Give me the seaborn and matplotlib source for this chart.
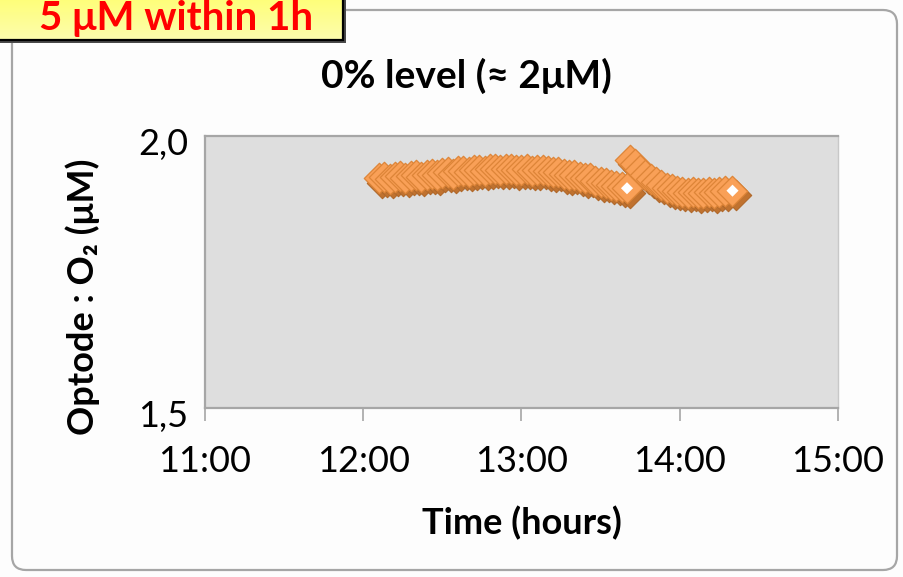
import numpy as np
import pandas as pd
import matplotlib
matplotlib.use("Agg")
import matplotlib.pyplot as plt
import matplotlib.transforms as mtrans
from matplotlib.patches import FancyBboxPatch, Rectangle
import seaborn as sns

# ---------------- data ----------------
seg1_times = ["12:06", "12:08", "12:10", "12:12", "12:14", "12:16", "12:18", "12:20",
              "12:22", "12:24", "12:26", "12:28", "12:30", "12:32", "12:34", "12:36",
              "12:38", "12:40", "12:42", "12:44", "12:46", "12:48", "12:50", "12:52",
              "12:54", "12:56", "12:58", "13:00", "13:02", "13:04", "13:06", "13:08",
              "13:10", "13:12", "13:14", "13:16", "13:18", "13:20", "13:22", "13:24",
              "13:26", "13:28", "13:30", "13:32", "13:34", "13:36", "13:38", "13:40"]
seg1_o2 = [1.922, 1.924, 1.921, 1.925, 1.926, 1.923, 1.927, 1.928,
           1.925, 1.929, 1.930, 1.928, 1.932, 1.933, 1.931, 1.935,
           1.936, 1.934, 1.937, 1.938, 1.936, 1.939, 1.940, 1.938,
           1.939, 1.940, 1.937, 1.938, 1.939, 1.936, 1.937, 1.938,
           1.935, 1.933, 1.934, 1.930, 1.928, 1.929, 1.925, 1.922,
           1.923, 1.918, 1.915, 1.914, 1.910, 1.908, 1.906, 1.904]
seg2_times = ["13:41", "13:43", "13:45", "13:47", "13:49", "13:51", "13:53", "13:55",
              "13:57", "13:59", "14:01", "14:03", "14:05", "14:07", "14:09", "14:11",
              "14:13", "14:15", "14:17", "14:20"]
seg2_o2 = [1.956, 1.948, 1.938, 1.929, 1.921, 1.915, 1.910, 1.905,
           1.902, 1.899, 1.897, 1.896, 1.897, 1.895, 1.896, 1.897,
           1.895, 1.897, 1.898, 1.8995]

x_ticks_labels = ["11:00", "12:00", "13:00", "14:00", "15:00"]
y_ticks = [1.5, 2.0]
y_ticks_labels = ["1,5", "2,0"]

title = "0% level (≈ 2μM)"
xlabel = "Time (hours)"
ylabel = "Optode : O₂ (μM)"
callout = "5 μM within 1h"


def to_hours(s):
    h, m = s.split(":")
    return int(h) + int(m) / 60.0


df = pd.DataFrame({
    "time": [to_hours(t) for t in seg1_times + seg2_times],
    "o2": seg1_o2 + seg2_o2,
    "seg": ["a"] * len(seg1_times) + ["b"] * len(seg2_times),
})
ends = pd.DataFrame({"time": [to_hours(seg1_times[-1]), to_hours(seg2_times[-1])],
                     "o2": [seg1_o2[-1], seg2_o2[-1]]})
tick_pos = [to_hours(t) for t in x_ticks_labels]

# ---------------- style ----------------
sns.set_theme(style="white")
plt.rcParams["font.family"] = ["Lato", "DejaVu Sans"]
plt.rcParams["text.color"] = "black"
plt.rcParams["axes.labelcolor"] = "black"

W, H = 904, 577
fig = plt.figure(figsize=(W / 100, H / 100), dpi=100)
fig.patch.set_facecolor("#FDFDFD")

# background (pixel coordinates) axes
bg = fig.add_axes([0, 0, 1, 1], zorder=0)
bg.set_xlim(0, W)
bg.set_ylim(H, 0)
bg.axis("off")

# rounded chart border
bg.add_patch(FancyBboxPatch((12, 10), 885, 560,
                            boxstyle="round,pad=0,rounding_size=14",
                            fc="#FDFDFD", ec="#A6A6A6", lw=1.6, zorder=1))

# callout box (top-left, clipped by figure edge)
bg.add_patch(Rectangle((-2, -2), 348, 45, fc="#4A4A4A", ec="none", zorder=2))
grad = np.linspace(0, 1, 64)[:, None, None]
top_c = np.array([1.0, 1.0, 0.45])
bot_c = np.array([0.99, 0.99, 0.68])
img = top_c * (1 - grad) + bot_c * grad
bg.imshow(img, extent=[-6, 343, 40, -6], aspect="auto", zorder=3,
          interpolation="bilinear")
bg.add_patch(Rectangle((-6, -6), 349, 46, fc="none", ec="black", lw=1.6, zorder=4))
bg.text(313, 30, callout, ha="right", va="baseline", color="#FF0000",
        fontsize=29, fontweight="bold", zorder=5)
bg.set_xlim(0, W)
bg.set_ylim(H, 0)

# title
bg.text(466, 76, title, ha="center", va="center", fontsize=28,
        fontweight="bold", color="black", zorder=5)

# ---------------- main axes ----------------
L, R, T, B = 205, 838, 136, 408
ax = fig.add_axes([L / W, (H - B) / H, (R - L) / W, (B - T) / H], zorder=2)
ax.set_facecolor("#DEDEDE")

shadow = ax.transData + mtrans.ScaledTranslation(2.2 / 72, -3.2 / 72, fig.dpi_scale_trans)
sns.scatterplot(data=df, x="time", y="o2", marker="D", s=240, color="#C0722F",
                edgecolor="#B0682A", linewidth=0.8, legend=False, ax=ax,
                transform=shadow, zorder=3)
sns.scatterplot(data=df, x="time", y="o2", marker="D", s=240, color="#F9A057",
                edgecolor="#DD8538", linewidth=0.9, legend=False, ax=ax, zorder=4)
sns.scatterplot(data=ends, x="time", y="o2", marker="D", s=38, color="white",
                edgecolor="none", linewidth=0, legend=False, ax=ax, zorder=5)

ax.set_xlim(11, 15)
ax.set_ylim(1.5, 2.0)
ax.set_xticks(tick_pos)
ax.set_xticklabels(x_ticks_labels)
ax.set_yticks(y_ticks)
ax.set_yticklabels(y_ticks_labels)
ax.tick_params(axis="x", direction="out", length=9, width=1.2, color="#A6A6A6",
               pad=18, labelsize=26, labelcolor="black", bottom=True)
ax.tick_params(axis="y", length=0, pad=12, labelsize=26, labelcolor="black")
shift = mtrans.ScaledTranslation(0, -5 / 100, fig.dpi_scale_trans)
for lab in ax.get_yticklabels():
    lab.set_transform(lab.get_transform() + shift)
for side in ["top", "left", "right", "bottom"]:
    ax.spines[side].set_visible(True)
    ax.spines[side].set_color("#A6A6A6")
    ax.spines[side].set_linewidth(1.6)
ax.spines["right"].set_color("#C8C8C8")
ax.spines["right"].set_linewidth(1.0)

ax.set_xlabel(xlabel, fontsize=26, fontweight="bold", labelpad=20, color="black")
ax.set_ylabel(ylabel, fontsize=26, fontweight="bold", color="black")
ax.yaxis.set_label_coords((100 - L) / (R - L), (B - 297) / (B - T))
ax.grid(False)

fig.savefig("out.png", dpi=100, facecolor=fig.get_facecolor())
